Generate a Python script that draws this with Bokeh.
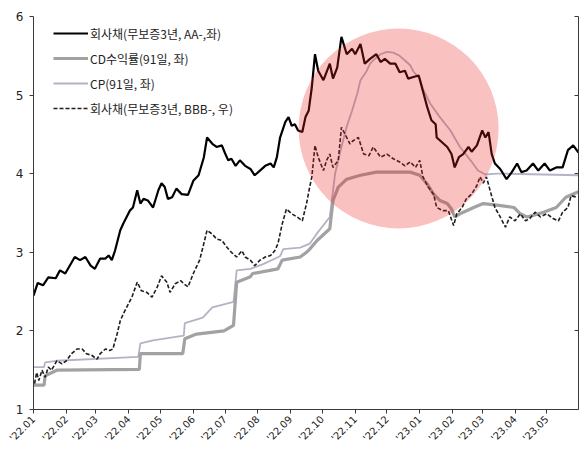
import pandas as pd
from bokeh.plotting import figure
from bokeh.models import (Range1d, LinearAxis, FixedTicker, DatetimeTickFormatter,
                          Legend, LegendItem, CustomJSTickFormatter)
from bokeh.embed import file_html
from bokeh.resources import INLINE

# ---------------- data ----------------
month_ticks = ["2022-01-01", "2022-02-01", "2022-03-01", "2022-04-01", "2022-05-01",
               "2022-06-01", "2022-07-01", "2022-08-01", "2022-09-01", "2022-10-01",
               "2022-11-01", "2022-12-01", "2023-01-01", "2023-02-01", "2023-03-01",
               "2023-04-01", "2023-05-01"]
y_ticks = [1, 2, 3, 4, 5, 6]

names = ["회사채(무보증3년, AA-,좌)", "CD수익률(91일, 좌)", "CP(91일, 좌)",
         "회사채(무보증3년, BBB-, 우)"]

aa_dates = ["2022-01-01", "2022-01-05", "2022-01-10", "2022-01-15", "2022-01-22", "2022-01-26",
            "2022-01-31", "2022-02-09", "2022-02-14", "2022-02-19", "2022-02-24", "2022-02-28",
            "2022-03-05", "2022-03-10", "2022-03-13", "2022-03-16", "2022-03-19", "2022-03-24",
            "2022-03-27", "2022-03-30", "2022-04-02", "2022-04-05", "2022-04-09", "2022-04-12",
            "2022-04-15", "2022-04-19", "2022-04-24", "2022-04-29", "2022-05-02", "2022-05-05",
            "2022-05-08", "2022-05-12", "2022-05-16", "2022-05-21", "2022-05-27", "2022-06-01",
            "2022-06-06", "2022-06-11", "2022-06-14", "2022-06-19", "2022-06-23", "2022-06-28",
            "2022-07-01", "2022-07-04", "2022-07-07", "2022-07-11", "2022-07-15", "2022-07-20",
            "2022-07-25", "2022-07-29", "2022-08-03", "2022-08-08", "2022-08-13", "2022-08-16",
            "2022-08-19", "2022-08-22", "2022-08-27", "2022-08-30", "2022-09-02", "2022-09-05",
            "2022-09-08", "2022-09-12", "2022-09-15", "2022-09-18", "2022-09-21", "2022-09-24",
            "2022-09-27", "2022-10-02", "2022-10-08", "2022-10-11", "2022-10-15", "2022-10-19",
            "2022-10-24", "2022-10-29", "2022-11-01", "2022-11-06", "2022-11-10", "2022-11-15",
            "2022-11-21", "2022-11-25", "2022-11-29", "2022-12-04", "2022-12-09", "2022-12-13",
            "2022-12-18", "2022-12-21", "2022-12-26", "2022-12-31", "2023-01-03", "2023-01-08",
            "2023-01-12", "2023-01-16", "2023-01-17", "2023-01-22", "2023-01-27", "2023-01-31",
            "2023-02-03", "2023-02-07", "2023-02-11", "2023-02-16", "2023-02-19", "2023-02-24",
            "2023-03-01", "2023-03-04", "2023-03-07", "2023-03-10", "2023-03-13", "2023-03-18",
            "2023-03-24", "2023-03-29", "2023-04-03", "2023-04-07", "2023-04-12", "2023-04-18",
            "2023-04-23", "2023-04-29", "2023-05-04", "2023-05-10", "2023-05-16", "2023-05-21",
            "2023-05-26", "2023-05-31"]
aa_vals = [2.45, 2.61, 2.58, 2.68, 2.67, 2.77, 2.73, 2.94, 2.90, 2.94, 2.83, 2.79,
           2.92, 2.92, 2.96, 2.90, 3.02, 3.28, 3.37, 3.45, 3.53, 3.57, 3.79, 3.62,
           3.68, 3.66, 3.57, 3.79, 3.88, 3.83, 3.68, 3.70, 3.81, 3.74, 3.73, 3.91,
           3.98, 4.21, 4.46, 4.38, 4.34, 4.36, 4.26, 4.17, 4.19, 4.10, 4.17, 4.10,
           4.06, 3.98, 4.04, 4.10, 4.13, 4.08, 4.21, 4.46, 4.66, 4.72, 4.61, 4.63,
           4.55, 4.53, 4.72, 4.80, 5.10, 5.52, 5.31, 5.19, 5.40, 5.21, 5.35, 5.74,
           5.52, 5.59, 5.52, 5.65, 5.40, 5.46, 5.52, 5.42, 5.46, 5.40, 5.40, 5.29,
           5.31, 5.21, 5.23, 5.25, 5.10, 4.85, 4.68, 4.63, 4.46, 4.40, 4.34, 4.25,
           4.08, 4.21, 4.25, 4.34, 4.28, 4.36, 4.55, 4.46, 4.53, 4.25, 4.13, 4.06,
           3.93, 4.02, 4.13, 4.02, 4.04, 4.13, 4.04, 4.13, 4.04, 4.08, 4.08, 4.30,
           4.36, 4.27]

bbb_dates = ["2022-01-02", "2022-01-04", "2022-01-06", "2022-01-09", "2022-01-12", "2022-01-15",
             "2022-01-18", "2022-01-23", "2022-01-28", "2022-02-01", "2022-02-06", "2022-02-11",
             "2022-02-16", "2022-02-20", "2022-02-25", "2022-03-02", "2022-03-05", "2022-03-10",
             "2022-03-14", "2022-03-17", "2022-03-21", "2022-03-24", "2022-03-27", "2022-03-30",
             "2022-04-04", "2022-04-09", "2022-04-13", "2022-04-18", "2022-04-23", "2022-04-28",
             "2022-05-02", "2022-05-07", "2022-05-10", "2022-05-15", "2022-05-20", "2022-05-23",
             "2022-05-27", "2022-06-01", "2022-06-07", "2022-06-10", "2022-06-14", "2022-06-19",
             "2022-06-23", "2022-06-28", "2022-07-03", "2022-07-07", "2022-07-12", "2022-07-17",
             "2022-07-20", "2022-07-25", "2022-07-29", "2022-08-03", "2022-08-08", "2022-08-13",
             "2022-08-17", "2022-08-20", "2022-08-24", "2022-08-28", "2022-09-02", "2022-09-07",
             "2022-09-12", "2022-09-16", "2022-09-19", "2022-09-21", "2022-09-24", "2022-09-27",
             "2022-10-02", "2022-10-05", "2022-10-08", "2022-10-11", "2022-10-16", "2022-10-19",
             "2022-10-24", "2022-10-27", "2022-10-30", "2022-11-04", "2022-11-09", "2022-11-14",
             "2022-11-18", "2022-11-25", "2022-12-01", "2022-12-07", "2022-12-13", "2022-12-18",
             "2022-12-23", "2022-12-28", "2023-01-01", "2023-01-04", "2023-01-09", "2023-01-14",
             "2023-01-17", "2023-01-23", "2023-01-28", "2023-02-02", "2023-02-05", "2023-02-10",
             "2023-02-14", "2023-02-19", "2023-02-24", "2023-02-27", "2023-03-02", "2023-03-05",
             "2023-03-08", "2023-03-13", "2023-03-18", "2023-03-23", "2023-03-27", "2023-04-01",
             "2023-04-06", "2023-04-11", "2023-04-15", "2023-04-20", "2023-04-25", "2023-05-01",
             "2023-05-07", "2023-05-12", "2023-05-16", "2023-05-21", "2023-05-24", "2023-05-30"]
bbb_vals = [1.33, 1.47, 1.37, 1.50, 1.41, 1.54, 1.50, 1.62, 1.58, 1.62, 1.71, 1.77,
            1.77, 1.71, 1.69, 1.64, 1.71, 1.77, 1.75, 1.77, 1.96, 2.13, 2.22, 2.30,
            2.43, 2.62, 2.51, 2.49, 2.43, 2.56, 2.70, 2.62, 2.49, 2.60, 2.64, 2.60,
            2.56, 2.73, 2.90, 3.06, 3.28, 3.23, 3.17, 3.15, 3.06, 3.00, 2.94, 3.02,
            2.94, 2.90, 2.83, 2.90, 2.94, 2.96, 3.02, 3.11, 3.36, 3.55, 3.49, 3.45,
            3.40, 3.62, 3.83, 3.96, 4.36, 4.21, 4.04, 4.17, 4.25, 4.08, 4.17, 4.59,
            4.46, 4.38, 4.42, 4.46, 4.25, 4.23, 4.34, 4.21, 4.25, 4.19, 4.15, 4.10,
            4.15, 4.08, 4.17, 3.96, 3.83, 3.74, 3.57, 3.53, 3.53, 3.34, 3.49, 3.57,
            3.68, 3.74, 3.85, 3.96, 3.88, 3.96, 3.81, 3.57, 3.45, 3.32, 3.45, 3.40,
            3.49, 3.40, 3.43, 3.51, 3.45, 3.49, 3.43, 3.40, 3.51, 3.57, 3.72, 3.70]

cd_dates = ["2022-01-01", "2022-01-11", "2022-01-12", "2022-01-23", "2022-04-11", "2022-04-12",
            "2022-05-22", "2022-05-24", "2022-06-04", "2022-06-30", "2022-07-09", "2022-07-12",
            "2022-07-25", "2022-07-27", "2022-08-20", "2022-08-24", "2022-09-10", "2022-09-16",
            "2022-09-19", "2022-09-26", "2022-10-08", "2022-10-11", "2022-10-16", "2022-10-24",
            "2022-11-06", "2022-11-21", "2022-12-23", "2023-01-01", "2023-01-08", "2023-01-14",
            "2023-01-20", "2023-01-27", "2023-01-31", "2023-02-03", "2023-02-08", "2023-02-21",
            "2023-03-02", "2023-03-15", "2023-03-31", "2023-04-06", "2023-04-12", "2023-04-18",
            "2023-04-28", "2023-05-10", "2023-05-19", "2023-05-31"]
cd_vals = [1.31, 1.31, 1.43, 1.50, 1.51, 1.71, 1.71, 1.90, 1.96, 2.00, 2.07, 2.62,
           2.69, 2.73, 2.79, 2.90, 2.94, 3.00, 3.04, 3.15, 3.30, 3.66, 3.83, 3.93,
           3.98, 4.02, 4.02, 3.98, 3.87, 3.74, 3.66, 3.62, 3.55, 3.45, 3.49, 3.57,
           3.62, 3.60, 3.57, 3.49, 3.45, 3.47, 3.51, 3.57, 3.70, 3.77]

cp_dates = ["2022-01-01", "2022-01-11", "2022-01-12", "2022-01-23", "2022-04-10", "2022-04-12",
            "2022-04-24", "2022-05-23", "2022-05-24", "2022-06-10", "2022-06-19", "2022-07-09",
            "2022-07-12", "2022-07-25", "2022-08-06", "2022-08-22", "2022-08-25", "2022-09-10",
            "2022-09-19", "2022-09-27", "2022-10-08", "2022-10-13", "2022-10-19", "2022-10-24",
            "2022-10-29", "2022-11-03", "2022-11-06", "2022-11-12", "2022-11-15", "2022-11-21",
            "2022-11-25", "2022-12-01", "2022-12-07", "2022-12-13", "2022-12-18", "2022-12-23",
            "2022-12-26", "2023-01-01", "2023-01-04", "2023-01-11", "2023-01-20", "2023-01-30",
            "2023-02-08", "2023-02-18", "2023-02-25", "2023-03-04", "2023-03-15", "2023-03-24",
            "2023-05-31"]
cp_vals = [1.54, 1.54, 1.60, 1.62, 1.67, 1.84, 1.88, 1.94, 2.10, 2.17, 2.30, 2.37,
           2.77, 2.79, 2.85, 2.95, 3.04, 3.06, 3.11, 3.26, 3.45, 4.00, 4.34, 4.60,
           4.80, 5.02, 5.19, 5.31, 5.40, 5.48, 5.52, 5.55, 5.54, 5.50, 5.44, 5.38,
           5.30, 5.21, 5.08, 4.89, 4.72, 4.55, 4.34, 4.17, 4.04, 3.99, 4.00, 4.00,
           3.98]

highlight_center_date = "2022-12-12"
highlight_center_value = 4.575

# ---------------- figure ----------------
p = figure(width=588, height=450, x_axis_type="datetime", output_backend="svg",
           toolbar_location=None,
           x_range=Range1d(pd.Timestamp("2022-01-01"), pd.Timestamp("2023-05-31")),
           y_range=Range1d(1, 6),
           min_border_left=33, min_border_right=10, min_border_top=16, min_border_bottom=41)
p.extra_y_ranges = {"right": Range1d(1, 6)}
p.xgrid.visible = False
p.ygrid.visible = False
p.outline_line_color = None
p.background_fill_color = "white"
p.border_fill_color = "white"

axis_color = "#3a3a3a"
tick_font = "DejaVu Sans"

xt = [int(t.value // 10**6) for t in pd.to_datetime(month_ticks)]
p.xaxis.ticker = FixedTicker(ticks=xt)
fmt = "'%y.%m"
p.xaxis.formatter = DatetimeTickFormatter(days=fmt, months=fmt, years=fmt, hours=fmt,
                                          minutes=fmt, seconds=fmt, milliseconds=fmt,
                                          hourmin=fmt, minsec=fmt, microseconds=fmt)
p.xaxis.major_label_orientation = 0.785398
p.xaxis.major_label_text_font = tick_font
p.xaxis.major_label_text_font_size = "10px"
p.xaxis.major_label_text_color = "#222222"
p.xaxis.major_tick_out = 4
p.xaxis.major_tick_in = 0
p.xaxis.minor_tick_line_color = None
p.xaxis.axis_line_color = axis_color
p.xaxis.major_tick_line_color = axis_color
p.xaxis.major_label_standoff = 4

p.yaxis.ticker = FixedTicker(ticks=y_ticks)
p.yaxis.major_label_text_font = tick_font
p.yaxis.major_label_text_font_size = "12px"
p.yaxis.major_label_text_color = "#222222"
p.yaxis.major_tick_out = 4
p.yaxis.major_tick_in = 0
p.yaxis.minor_tick_line_color = None
p.yaxis.axis_line_color = axis_color
p.yaxis.major_tick_line_color = axis_color
p.yaxis.major_label_standoff = 6

ra = LinearAxis(y_range_name="right", ticker=FixedTicker(ticks=y_ticks),
                formatter=CustomJSTickFormatter(code="return ''"),
                major_tick_in=4, major_tick_out=0, minor_tick_line_color=None,
                axis_line_color=axis_color, major_tick_line_color=axis_color,
                major_label_standoff=0, major_label_text_font_size="1px")
p.add_layout(ra, "right")

cp_r = p.line(pd.to_datetime(cp_dates), cp_vals, line_color="#b3b3c6", line_width=1.8)
cd_r = p.line(pd.to_datetime(cd_dates), cd_vals, line_color="#a2a2a2", line_width=3.2)
bbb_r = p.line(pd.to_datetime(bbb_dates), bbb_vals, line_color="#1e1e1e", line_width=1.6,
               line_dash="4 2", y_range_name="right")
aa_r = p.line(pd.to_datetime(aa_dates), aa_vals, line_color="#000000", line_width=2.2)

p.circle(x=[pd.Timestamp(highlight_center_date)], y=[highlight_center_value],
         radius=100, radius_units="screen", fill_color="#ee2222", fill_alpha=0.28,
         line_color=None)

legend = Legend(items=[LegendItem(label=names[0], renderers=[aa_r]),
                       LegendItem(label=names[1], renderers=[cd_r]),
                       LegendItem(label=names[2], renderers=[cp_r]),
                       LegendItem(label=names[3], renderers=[bbb_r])],
                location=(20, 291), margin=0, padding=0, spacing=5,
                glyph_width=35, glyph_height=20, label_height=20, label_standoff=2,
                border_line_color=None, background_fill_alpha=0,
                label_text_font="Noto Sans CJK KR", label_text_font_size="12px",
                label_text_color="#222222")
p.add_layout(legend)

open("out.html", "w").write(file_html(p, INLINE))
